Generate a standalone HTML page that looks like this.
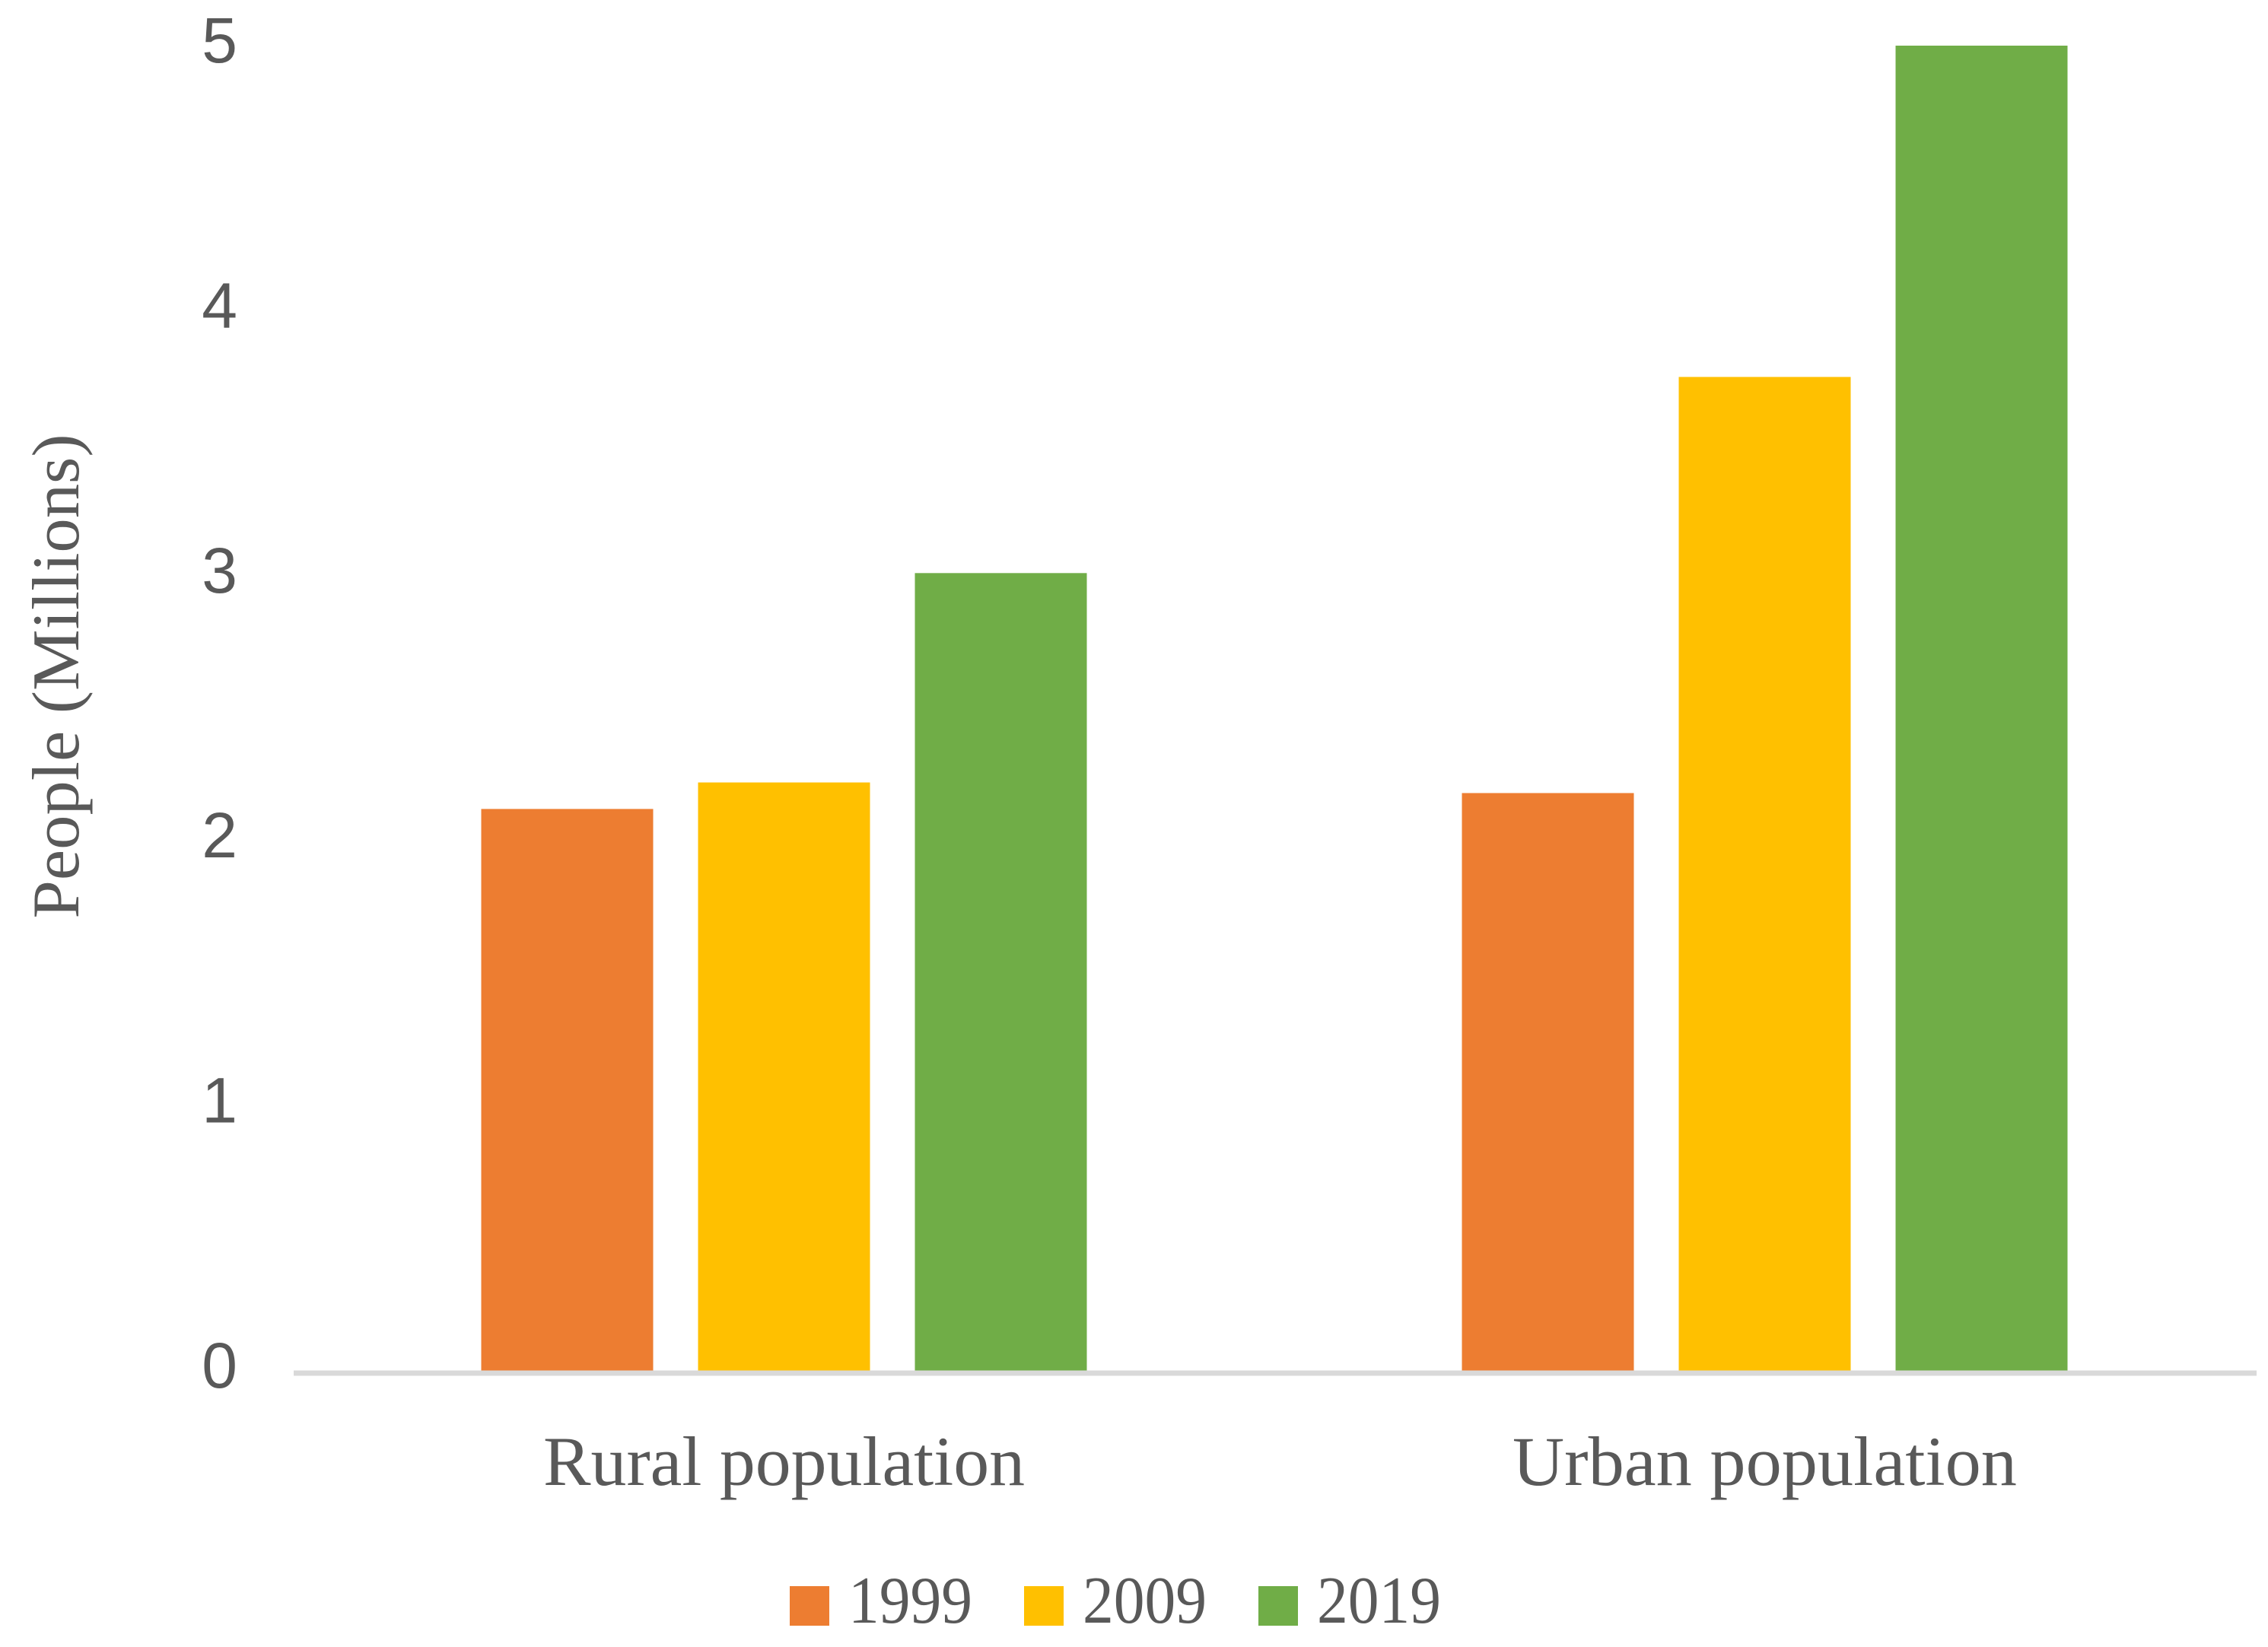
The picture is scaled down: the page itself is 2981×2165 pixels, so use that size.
<!DOCTYPE html>
<html><head><meta charset="utf-8"><style>
html,body{margin:0;padding:0;background:#fff;}
svg{display:block;}
</style></head><body>
<svg id="chart" xmlns="http://www.w3.org/2000/svg" width="2981" height="2165" viewBox="0 0 2981 2165">
<rect width="2981" height="2165" fill="#fff"/>
<g id="yticks"></g>
<g id="bars"></g>
<line x1="386" y1="1805" x2="2966" y2="1805" stroke="#d9d9d9" stroke-width="7"/>
<g id="xlabels"></g>
<text transform="translate(103,889) rotate(-90)" text-anchor="middle" font-family="Liberation Serif, serif" font-size="88" fill="#595959" textLength="637" lengthAdjust="spacingAndGlyphs">People (Millions)</text>
<g id="legend"></g>
</svg>
<script>
const categories = ["Rural population", "Urban population"];
const seriesNames = ["1999", "2009", "2019"];
const values1999 = [2.12, 2.18];
const values2009 = [2.22, 3.75];
const values2019 = [3.01, 5.0];
const yTicks = [0, 1, 2, 3, 4, 5];
const colors = ["#ed7d31", "#ffc000", "#70ad47"];
const NS = "http://www.w3.org/2000/svg";
const plotLeft = 386, plotRight = 2964, yZero = 1802, unit = 348.4;
function y(v){ return yZero - v*unit; }
const catW = (plotRight-plotLeft)/categories.length;
function xCenter(i){ return plotLeft + catW*(i+0.5); }
const barW = 226, step = 285;
const series = [values1999, values2009, values2019];
const yt = document.getElementById('yticks');
yTicks.forEach(t=>{
  const el = document.createElementNS(NS,'text');
  
  
  el.setAttribute('x', 312);
  el.setAttribute('y', y(t) + 22);
  el.setAttribute('text-anchor','end');
  el.setAttribute('font-family','Liberation Sans, sans-serif');
  el.setAttribute('font-size','84');
  el.setAttribute('fill','#595959');
  el.textContent = t;
  yt.appendChild(el);
});
const bg = document.getElementById('bars');
categories.forEach((c,i)=>{
  series.forEach((s,k)=>{
    const r = document.createElementNS(NS,'rect');
    
    
    const cx = xCenter(i) + (k-1)*step;
    r.setAttribute('x', cx - barW/2);
    r.setAttribute('y', y(s[i]));
    r.setAttribute('width', barW);
    r.setAttribute('height', yZero - y(s[i]));
    r.setAttribute('fill', colors[k]);
    bg.appendChild(r);
  });
});
const xl = document.getElementById('xlabels');
const lens = [633, 663];
categories.forEach((c,i)=>{
  const el = document.createElementNS(NS,'text');
  
  
  el.setAttribute('x', xCenter(i));
  el.setAttribute('y', 1952);
  el.setAttribute('text-anchor','middle');
  el.setAttribute('font-family','Liberation Serif, serif');
  el.setAttribute('font-size','92');
  el.setAttribute('fill','#595959');
  el.setAttribute('textLength', lens[i]);
  el.setAttribute('lengthAdjust','spacingAndGlyphs');
  el.textContent = c;
  xl.appendChild(el);
});
const lg = document.getElementById('legend');
const legX = [1038, 1346, 1654];
seriesNames.forEach((n,k)=>{
  const r = document.createElementNS(NS,'rect');
  
  
  r.setAttribute('x', legX[k]); r.setAttribute('y', 2085);
  r.setAttribute('width', 52); r.setAttribute('height', 52);
  r.setAttribute('fill', colors[k]);
  lg.appendChild(r);
  const t = document.createElementNS(NS,'text');
  
  
  t.setAttribute('x', legX[k] + 77); t.setAttribute('y', 2133);
  t.setAttribute('font-family','Liberation Serif, serif');
  t.setAttribute('font-size','88');
  t.setAttribute('fill','#595959');
  t.setAttribute('textLength', 163);
  t.setAttribute('lengthAdjust','spacingAndGlyphs');
  t.textContent = n;
  lg.appendChild(t);
});
</script>
</body></html>
